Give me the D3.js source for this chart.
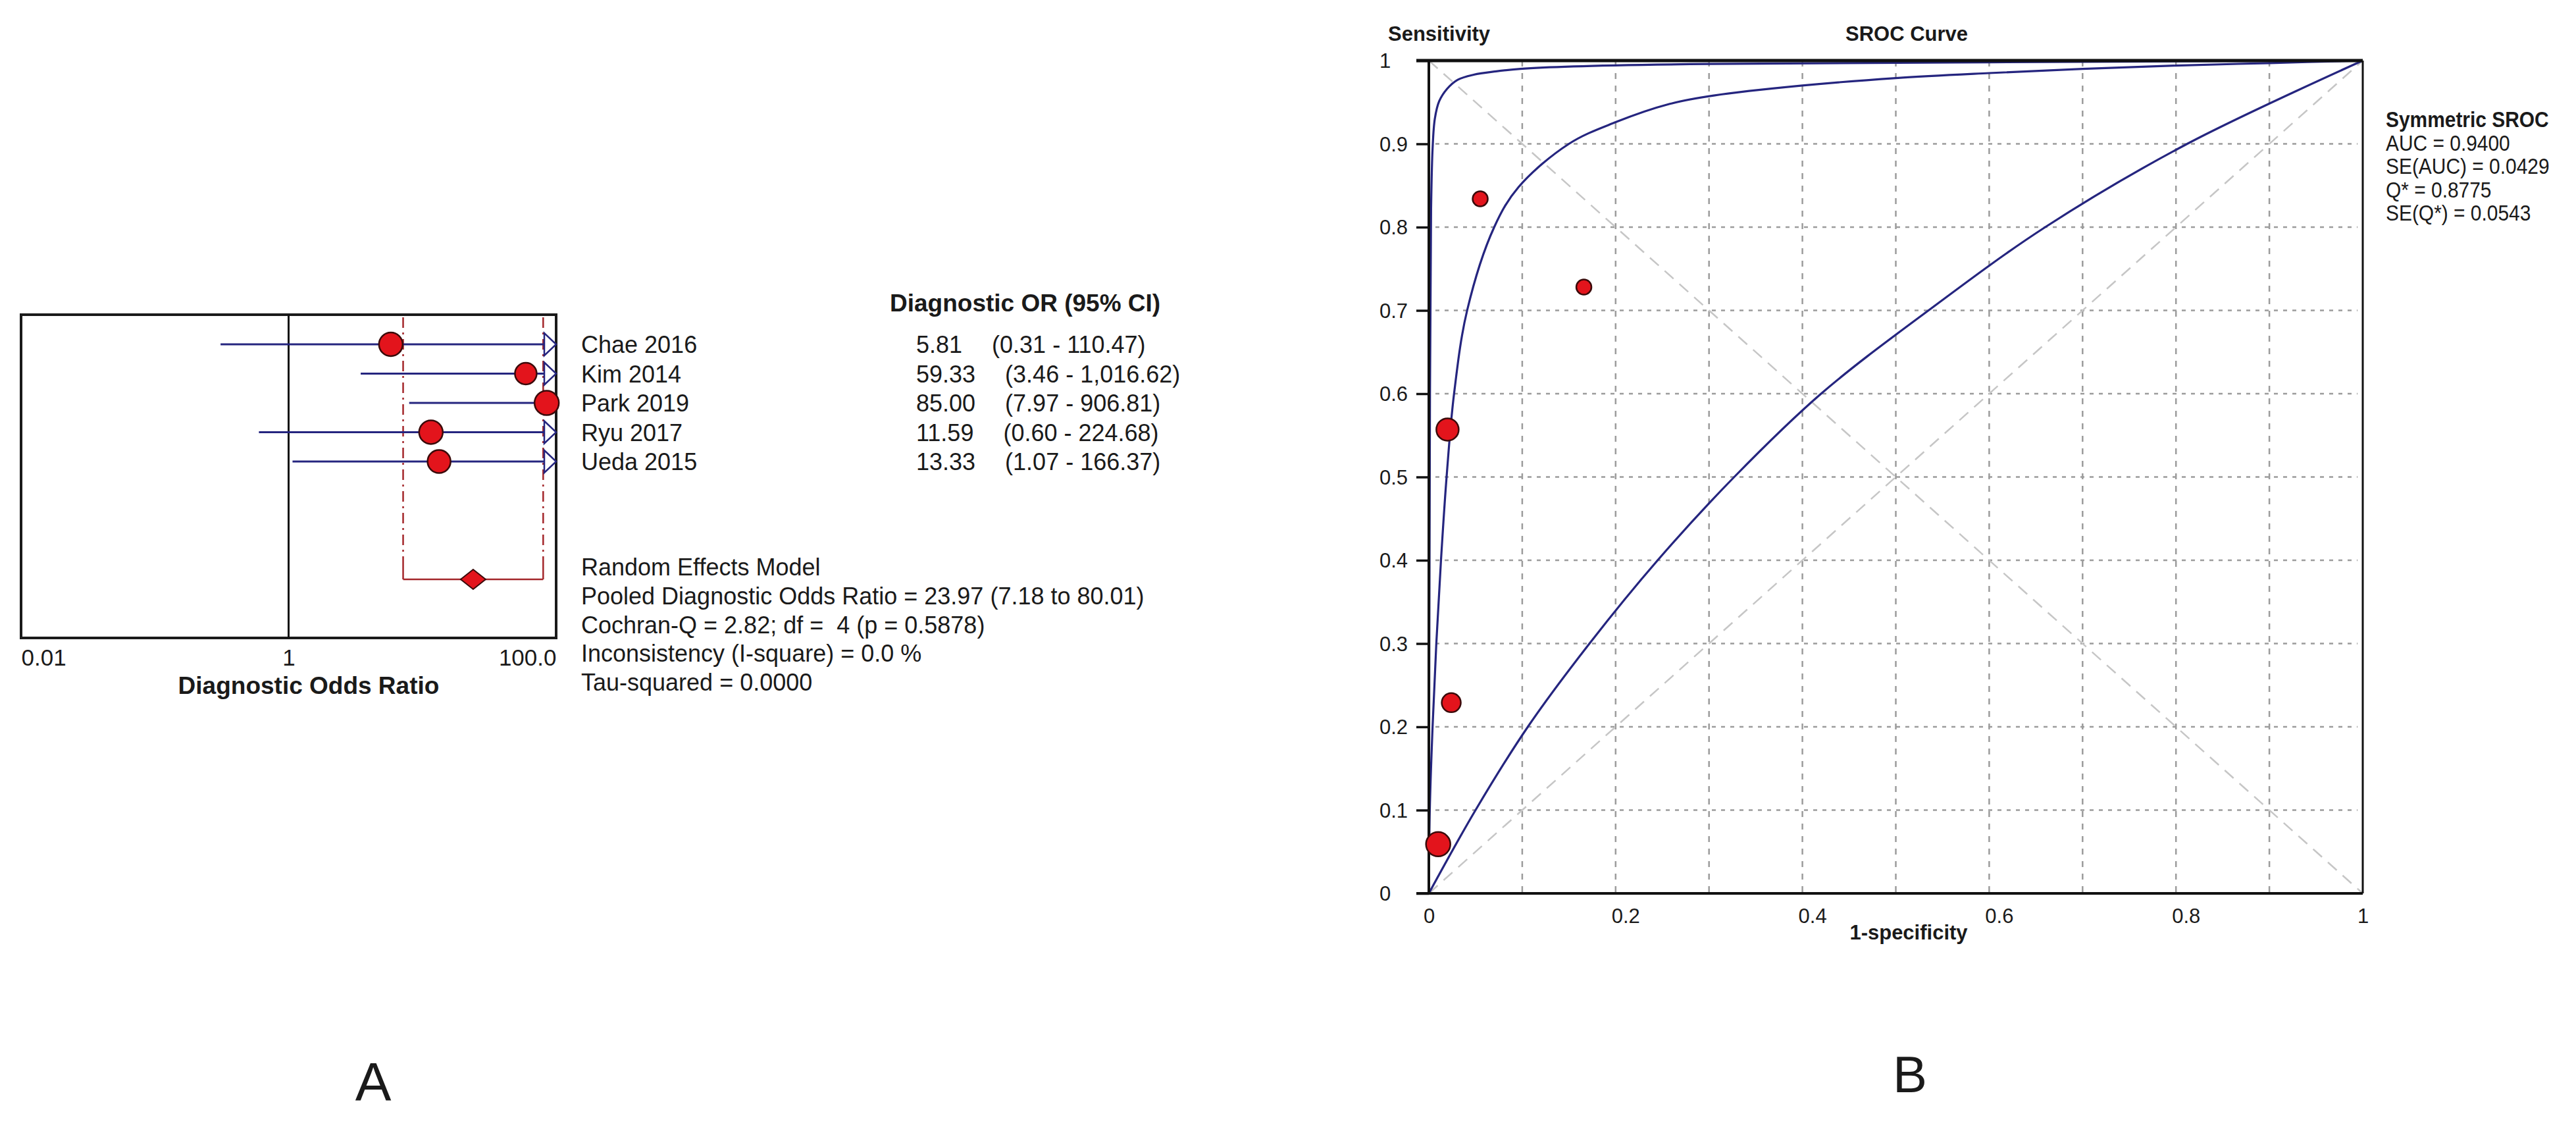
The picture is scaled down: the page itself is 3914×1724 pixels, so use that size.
<!DOCTYPE html>
<html>
<head>
<meta charset="utf-8">
<script src="https://cdn.jsdelivr.net/npm/d3@7"></script>
<style>
    body { margin: 0; background: #fff; }
    svg text { font-family: "Liberation Sans", Arial, sans-serif; fill: #1a1a1a; }
</style>
</head>
<body>
<div id="main"></div>
<script>
// ---- panel A data (forest plot) ----
const studies = ["Chae 2016", "Kim 2014", "Park 2019", "Ryu 2017", "Ueda 2015"];
const dorValues = [5.81, 59.33, 85.00, 11.59, 13.33];
const ciLow = [0.31, 3.46, 7.97, 0.60, 1.07];
const ciHigh = [110.47, 1016.62, 906.81, 224.68, 166.37];
const studyWeight = [18, 16.5, 18.5, 18, 17.5];
const pooledDor = [23.97, 7.18, 80.01];
const forestTicks = [0.01, 1, 100];
const forestTickLabels = ["0.01", "1", "100.0"];
const statsLines = [
    "Random Effects Model",
    "Pooled Diagnostic Odds Ratio = 23.97 (7.18 to 80.01)",
    "Cochran-Q = 2.82; df =  4 (p = 0.5878)",
    "Inconsistency (I-square) = 0.0 %",
    "Tau-squared = 0.0000"
];

// ---- panel B data (SROC) ----
const pointFpr = [0.055, 0.166, 0.020, 0.024, 0.010];
const pointSens = [0.834, 0.728, 0.557, 0.229, 0.059];
const pointSize = [11.5, 11.5, 17, 14.5, 18.5];
const curveUpper = [[0, 0], [0.0012, 0.6], [0.0024, 0.822], [0.004, 0.894], [0.0064, 0.93], [0.011, 0.951],
    [0.0195, 0.966], [0.031, 0.977], [0.048, 0.983], [0.072, 0.987], [0.098, 0.99], [0.155, 0.993],
    [0.3, 0.996], [0.6, 0.998], [1, 1]];
const curveMiddle = [[0, 0], [0.001, 0.1], [0.004, 0.2], [0.008, 0.3], [0.013, 0.4], [0.019, 0.5],
    [0.027, 0.6], [0.041, 0.7], [0.07, 0.8], [0.096, 0.848], [0.15, 0.9], [0.2, 0.926], [0.258, 0.948],
    [0.305, 0.958], [0.4, 0.97], [0.5, 0.979], [0.6, 0.985], [0.7, 0.99], [0.8, 0.994], [0.9, 0.997], [1, 1]];
const curveLower = [[0, 0], [0.05, 0.1], [0.106, 0.2], [0.172, 0.3], [0.245, 0.4], [0.327, 0.5],
    [0.42, 0.6], [0.535, 0.7], [0.66, 0.8], [0.812, 0.9], [1, 1]];
const sensTicks = [0, 0.1, 0.2, 0.3, 0.4, 0.5, 0.6, 0.7, 0.8, 0.9, 1];
const fprTicks = [0, 0.2, 0.4, 0.6, 0.8, 1];
const legendLines = ["Symmetric SROC", "AUC = 0.9400", "SE(AUC) = 0.0429", "Q* = 0.8775", "SE(Q*) = 0.0543"];

const W = 3914, H = 1724;
const NAVY = "#25257f", RED = "#e3141c", DARKRED = "#a3262a", MARK_STROKE = "#3a0a0a";

const svg = d3.select("#main").append("svg").attr("width", W).attr("height", H);
svg.append("rect").attr("width", W).attr("height", H).attr("fill", "#fff");

// ================= Panel A =================
const fA = { left: 32, right: 845, top: 478, bottom: 969 };
const xA = d3.scaleLog().domain([0.01, 100]).range([fA.left, fA.right]);
const rowY = d3.scalePoint().domain(studies).range([523, 701]);
const pooledY = 880;

const gA = svg.append("g");

gA.append("rect")
    .attr("x", fA.left).attr("y", fA.top)
    .attr("width", fA.right - fA.left).attr("height", fA.bottom - fA.top)
    .attr("fill", "none").attr("stroke", "#1a1a1a").attr("stroke-width", 4);

gA.append("line")
    .attr("x1", xA(1)).attr("x2", xA(1)).attr("y1", fA.top).attr("y2", fA.bottom)
    .attr("stroke", "#111").attr("stroke-width", 3);

// pooled CI dashed lines and bracket
[pooledDor[1], pooledDor[2]].forEach(v => {
    gA.append("line")
        .attr("x1", xA(v)).attr("x2", xA(v)).attr("y1", fA.top + 4).attr("y2", pooledY - 28)
        .attr("stroke", DARKRED).attr("stroke-width", 2.5).attr("stroke-dasharray", "16,7,3,7");
    gA.append("line")
        .attr("x1", xA(v)).attr("x2", xA(v)).attr("y1", pooledY - 28).attr("y2", pooledY)
        .attr("stroke", DARKRED).attr("stroke-width", 2.5);
});
gA.append("line")
    .attr("x1", xA(pooledDor[1])).attr("x2", xA(pooledDor[2])).attr("y1", pooledY).attr("y2", pooledY)
    .attr("stroke", DARKRED).attr("stroke-width", 2.5);

// CI lines with arrows for values beyond the axis
const arrowLen = 18, arrowHalf = 17;
studies.forEach((s, i) => {
    const y = rowY(s);
    const clipped = ciHigh[i] > 100;
    const xEnd = clipped ? xA(100) - arrowLen : xA(ciHigh[i]);
    gA.append("line")
        .attr("x1", xA(Math.max(ciLow[i], 0.01))).attr("x2", xEnd).attr("y1", y).attr("y2", y)
        .attr("stroke", NAVY).attr("stroke-width", 3);
    if (clipped) {
        gA.append("path")
            .attr("d", `M${xEnd},${y - arrowHalf}L${xA(100)},${y}L${xEnd},${y + arrowHalf}Z`)
            .attr("fill", "none").attr("stroke", NAVY).attr("stroke-width", 2.5);
    }
});

gA.selectAll("circle.study")
    .data(studies)
    .enter()
    .append("circle")
    .attr("class", "study")
    .attr("cx", (d, i) => xA(dorValues[i]))
    .attr("cy", d => rowY(d))
    .attr("r", (d, i) => studyWeight[i])
    .attr("fill", RED).attr("stroke", MARK_STROKE).attr("stroke-width", 2.5);

const dx = xA(pooledDor[0]);
gA.append("path")
    .attr("d", `M${dx - 19},${pooledY}L${dx},${pooledY - 15}L${dx + 19},${pooledY}L${dx},${pooledY + 15}Z`)
    .attr("fill", RED).attr("stroke", MARK_STROKE).attr("stroke-width", 2);

// x axis of panel A
const axA = gA.append("g")
    .attr("transform", `translate(0,${fA.bottom})`)
    .call(d3.axisBottom(xA).tickValues(forestTicks).tickSize(0).tickFormat((d, i) => forestTickLabels[i]));
axA.select(".domain").remove();
axA.selectAll("text")
    .attr("y", 42).attr("dy", 0)
    .style("font-size", "35px")
    .attr("text-anchor", (d, i) => i === 0 ? "start" : (i === forestTicks.length - 1 ? "end" : "middle"))
    .attr("fill", "#1a1a1a");

gA.append("text")
    .attr("x", 469).attr("y", 1054)
    .attr("text-anchor", "middle")
    .style("font-size", "37px").style("font-weight", "bold")
    .text("Diagnostic Odds Ratio");

// study labels and values
const fmt = d3.format(",.2f");
gA.append("text")
    .attr("x", 1352).attr("y", 473)
    .style("font-size", "37px").style("font-weight", "bold")
    .text("Diagnostic OR (95% CI)");

studies.forEach((s, i) => {
    const y = rowY(s) + 13;
    gA.append("text").attr("x", 883).attr("y", y).style("font-size", "36px").text(s);
    const orText = gA.append("text").attr("x", 1392).attr("y", y).style("font-size", "36px")
        .text(fmt(dorValues[i]));
    const w = orText.node().getComputedTextLength();
    gA.append("text").attr("x", 1392 + w + 45).attr("y", y).style("font-size", "36px")
        .text(`(${fmt(ciLow[i])} - ${fmt(ciHigh[i])})`);
});

statsLines.forEach((t, i) => {
    gA.append("text")
        .attr("x", 883).attr("y", 861 + 13 + i * 43.8)
        .style("font-size", "36px")
        .style("white-space", "pre")
        .text(t);
});

gA.append("text")
    .attr("x", 567).attr("y", 1671)
    .attr("text-anchor", "middle")
    .style("font-size", "82px")
    .text("A");

// ================= Panel B =================
const fB = { left: 2171, right: 3590, top: 92, bottom: 1357 };
const xB = d3.scaleLinear().domain([0, 1]).range([fB.left, fB.right]);
const yB = d3.scaleLinear().domain([0, 1]).range([fB.bottom, fB.top]);
const gB = svg.append("g");

const gridTicks = sensTicks.filter(v => v > 0 && v < 1);
gB.selectAll("line.vgrid")
    .data(gridTicks)
    .enter()
    .append("line")
    .attr("class", "vgrid")
    .attr("x1", d => xB(d)).attr("x2", d => xB(d))
    .attr("y1", fB.top).attr("y2", fB.bottom)
    .attr("stroke", "#9c9c9c").attr("stroke-width", 2.5).attr("stroke-dasharray", "9,10");
gB.selectAll("line.hgrid")
    .data(gridTicks)
    .enter()
    .append("line")
    .attr("class", "hgrid")
    .attr("x1", fB.left + 10).attr("x2", fB.right - 8)
    .attr("y1", d => yB(d)).attr("y2", d => yB(d))
    .attr("stroke", "#9c9c9c").attr("stroke-width", 2.5).attr("stroke-dasharray", "6,8");

// diagonals
[[[0, 0], [1, 1]], [[0, 1], [1, 0]]].forEach(seg => {
    gB.append("line")
        .attr("x1", xB(seg[0][0])).attr("y1", yB(seg[0][1]))
        .attr("x2", xB(seg[1][0])).attr("y2", yB(seg[1][1]))
        .attr("stroke", "#c6c6c6").attr("stroke-width", 2.5).attr("stroke-dasharray", "18,12");
});

const lineGen = d3.line().x(d => xB(d[0])).y(d => yB(d[1])).curve(d3.curveCatmullRom.alpha(0.5));
[curveUpper, curveMiddle, curveLower].forEach(c => {
    gB.append("path")
        .attr("d", lineGen(c))
        .attr("fill", "none").attr("stroke", NAVY).attr("stroke-width", 3.2);
});

// frame lines
gB.append("line").attr("x1", fB.left - 19).attr("x2", fB.right).attr("y1", fB.top).attr("y2", fB.top)
    .attr("stroke", "#111").attr("stroke-width", 5);
gB.append("line").attr("x1", fB.left - 19).attr("x2", fB.right).attr("y1", fB.bottom).attr("y2", fB.bottom)
    .attr("stroke", "#111").attr("stroke-width", 4);
gB.append("line").attr("x1", fB.left).attr("x2", fB.left).attr("y1", fB.top).attr("y2", fB.bottom)
    .attr("stroke", "#111").attr("stroke-width", 4);
gB.append("line").attr("x1", fB.right).attr("x2", fB.right).attr("y1", fB.top).attr("y2", fB.bottom)
    .attr("stroke", "#111").attr("stroke-width", 3);

// y axis
const ayB = gB.append("g")
    .attr("transform", `translate(${fB.left},0)`)
    .call(d3.axisLeft(yB).tickValues(sensTicks).tickSize(19).tickFormat(d => d === 0 || d === 1 ? d : d.toFixed(1)));
ayB.select(".domain").remove();
ayB.selectAll(".tick line").attr("stroke", "#111").attr("stroke-width", 3.5);
ayB.selectAll("text")
    .attr("x", -75).attr("dy", "0.35em")
    .attr("text-anchor", "start")
    .style("font-size", "31px")
    .attr("fill", "#1a1a1a");

// x axis
const axB = gB.append("g")
    .attr("transform", `translate(0,${fB.bottom})`)
    .call(d3.axisBottom(xB).tickValues(fprTicks).tickSize(0).tickFormat(d => d === 0 || d === 1 ? d : d.toFixed(1)));
axB.select(".domain").remove();
axB.selectAll("text")
    .attr("y", 23).attr("dy", "0.71em")
    .attr("dx", d => (d === 0 || d === 1) ? 0 : 15)
    .style("font-size", "31px")
    .attr("fill", "#1a1a1a");

gB.selectAll("circle.pt")
    .data(pointFpr)
    .enter()
    .append("circle")
    .attr("class", "pt")
    .attr("cx", d => xB(d))
    .attr("cy", (d, i) => yB(pointSens[i]))
    .attr("r", (d, i) => pointSize[i])
    .attr("fill", RED).attr("stroke", MARK_STROKE).attr("stroke-width", 2.5);

gB.append("text").attr("x", 2109).attr("y", 62)
    .style("font-size", "31px").style("font-weight", "bold").text("Sensitivity");
gB.append("text").attr("x", 2897).attr("y", 62).attr("text-anchor", "middle")
    .style("font-size", "31px").style("font-weight", "bold").text("SROC Curve");
gB.append("text").attr("x", 2900).attr("y", 1427).attr("text-anchor", "middle")
    .style("font-size", "31px").style("font-weight", "bold").text("1-specificity");

legendLines.forEach((t, i) => {
    gB.append("text")
        .attr("transform", `translate(3625,${193 + i * 35.5}) scale(0.88,1)`)
        .style("font-size", "34px")
        .style("font-weight", i === 0 ? "bold" : "normal")
        .text(t);
});

gB.append("text")
    .attr("x", 2902).attr("y", 1659)
    .attr("text-anchor", "middle")
    .style("font-size", "78px")
    .text("B");
</script>
</body>
</html>
